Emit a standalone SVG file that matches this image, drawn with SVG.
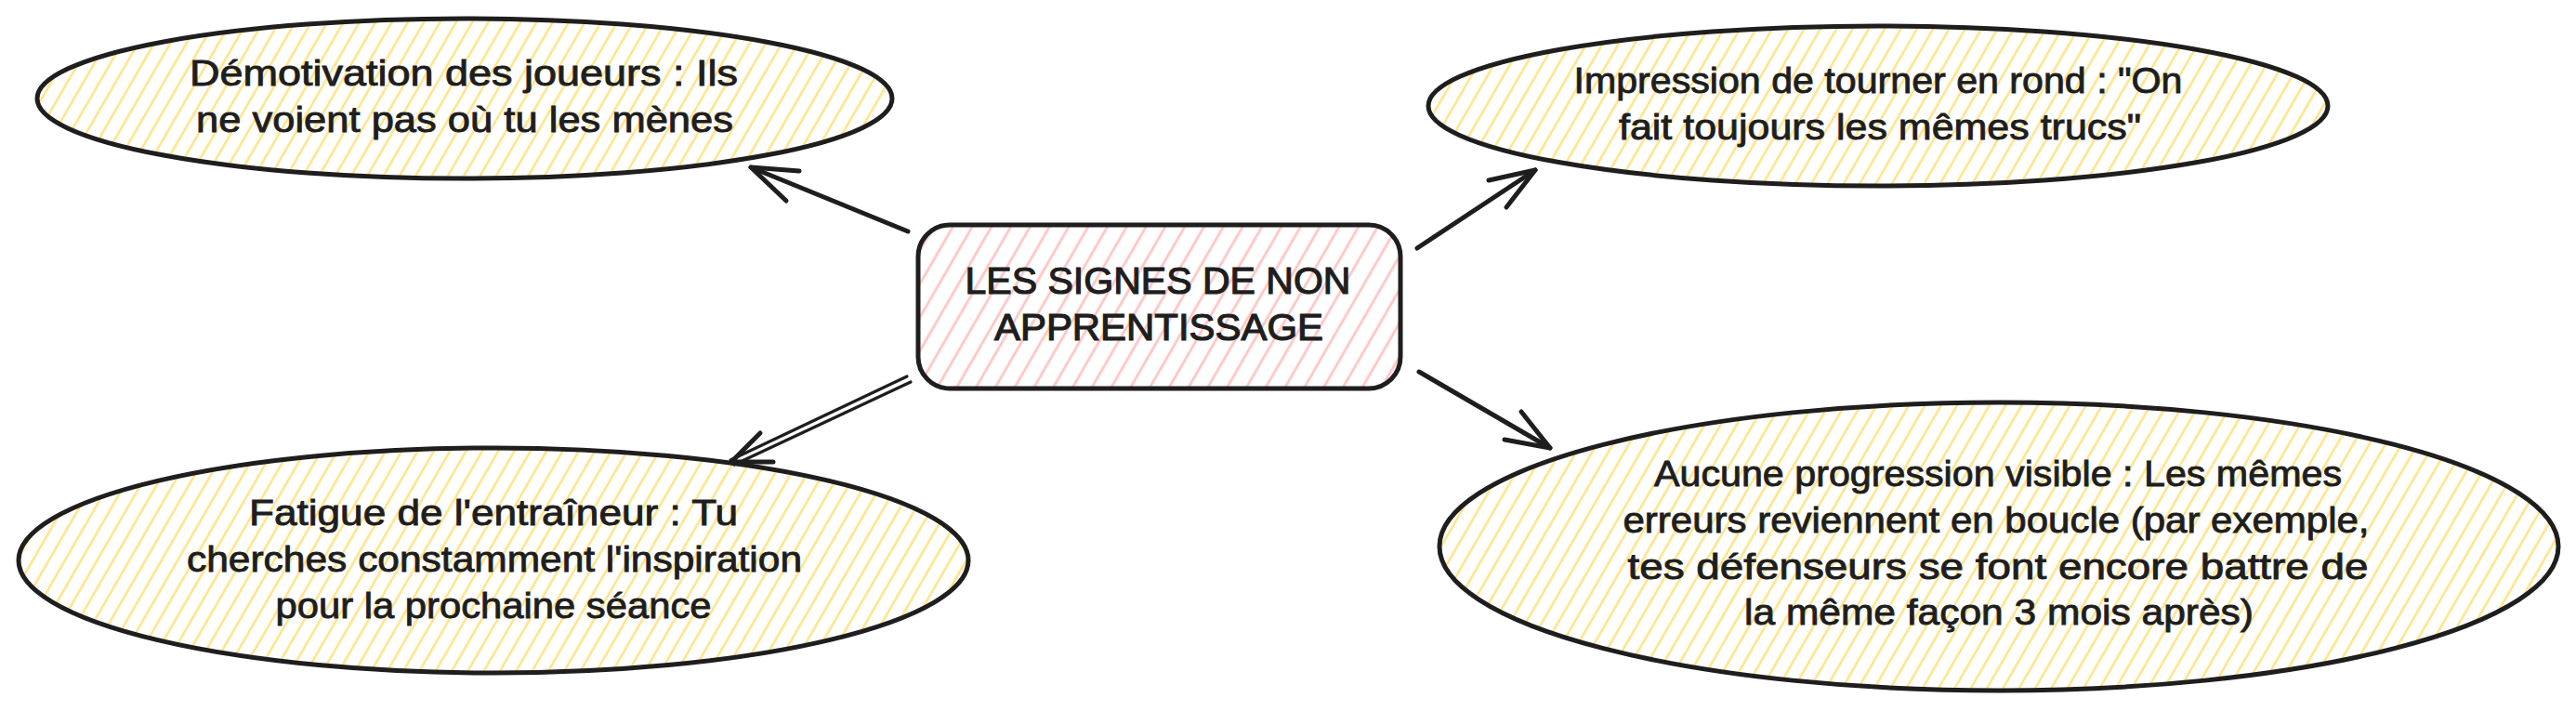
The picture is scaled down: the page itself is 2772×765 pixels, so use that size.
<svg xmlns="http://www.w3.org/2000/svg" width="2772" height="765" viewBox="0 0 2772 765">
  <defs>
    <pattern id="hatchY" patternUnits="userSpaceOnUse" width="15" height="15" patternTransform="rotate(30)">
      <line x1="2" y1="-5" x2="2" y2="20" stroke="#ffe38a" stroke-width="2.6"/>
    </pattern>
    <pattern id="hatchP" patternUnits="userSpaceOnUse" width="18" height="18" patternTransform="rotate(30)">
      <line x1="2" y1="-5" x2="2" y2="25" stroke="#ffc4c4" stroke-width="2.8"/>
    </pattern>
    <style>
      .shape { stroke: #1e1e1e; stroke-width: 5; stroke-linejoin: round; }
      .yel { fill: url(#hatchY); }
      .pink { fill: url(#hatchP); }
      .lbl { font-family: "Liberation Sans", "DejaVu Sans", sans-serif; font-size: 39px; fill: #1e1e1e; stroke: #1e1e1e; stroke-width: 0.9; text-anchor: middle; }
      .title { font-family: "Liberation Sans", "DejaVu Sans", sans-serif; font-size: 40px; fill: #1e1e1e; stroke: #1e1e1e; stroke-width: 1.2; text-anchor: middle; }
      .conn { fill: none; stroke: #1e1e1e; stroke-width: 5; stroke-linecap: round; stroke-linejoin: round; }
      .connThin { fill: none; stroke: #1e1e1e; stroke-width: 3.2; stroke-linecap: round; stroke-linejoin: round; }
    </style>
  </defs>
  <rect x="0" y="0" width="2772" height="765" fill="#ffffff"/>

  <g id="connectors">
    <g id="arrow-demotivation">
      <line class="conn" x1="977" y1="249" x2="808" y2="180"/>
      <polyline class="conn" points="860,184 808,180 846,216"/>
    </g>
    <g id="arrow-impression">
      <line class="conn" x1="1525" y1="267" x2="1652" y2="183"/>
      <polyline class="conn" points="1602,194 1652,183 1621,223"/>
    </g>
    <g id="arrow-fatigue">
      <line class="connThin" x1="976" y1="405" x2="786" y2="495"/>
      <line class="connThin" x1="980" y1="411" x2="790" y2="500"/>
      <polyline class="conn" points="818,466 787,497 832,497"/>
    </g>
    <g id="arrow-progression">
      <line class="conn" x1="1527" y1="400" x2="1668" y2="482"/>
      <polyline class="conn" points="1637,443 1668,482 1619,473"/>
    </g>
  </g>

  <g id="node-center">
    <rect class="shape pink" x="988" y="242" width="519" height="176" rx="34" ry="34"/>
    <text class="title" x="1246" y="316" textLength="415" lengthAdjust="spacingAndGlyphs">LES SIGNES DE NON</text>
    <text class="title" x="1247" y="366" textLength="354" lengthAdjust="spacingAndGlyphs">APPRENTISSAGE</text>
  </g>

  <g id="node-demotivation">
    <ellipse class="shape yel" cx="500" cy="106" rx="460" ry="86"/>
    <text class="lbl" x="499" y="92" textLength="590" lengthAdjust="spacingAndGlyphs">Démotivation des joueurs : Ils</text>
    <text class="lbl" x="500" y="142" textLength="578" lengthAdjust="spacingAndGlyphs">ne voient pas où tu les mènes</text>
  </g>

  <g id="node-impression">
    <ellipse class="shape yel" cx="2021" cy="114" rx="484" ry="86"/>
    <text class="lbl" x="2021" y="100" textLength="655" lengthAdjust="spacingAndGlyphs">Impression de tourner en rond : "On</text>
    <text class="lbl" x="2023" y="150" textLength="562" lengthAdjust="spacingAndGlyphs">fait toujours les mêmes trucs"</text>
  </g>

  <g id="node-fatigue">
    <ellipse class="shape yel" cx="531" cy="603" rx="511" ry="121"/>
    <text class="lbl" x="531" y="565" textLength="526" lengthAdjust="spacingAndGlyphs">Fatigue de l'entraîneur : Tu</text>
    <text class="lbl" x="532" y="615" textLength="662" lengthAdjust="spacingAndGlyphs">cherches constamment l'inspiration</text>
    <text class="lbl" x="531" y="665" textLength="469" lengthAdjust="spacingAndGlyphs">pour la prochaine séance</text>
  </g>

  <g id="node-progression">
    <ellipse class="shape yel" cx="2151" cy="588" rx="602" ry="155"/>
    <text class="lbl" x="2150" y="523" textLength="740" lengthAdjust="spacingAndGlyphs">Aucune progression visible : Les mêmes</text>
    <text class="lbl" x="2148" y="573" textLength="803" lengthAdjust="spacingAndGlyphs">erreurs reviennent en boucle (par exemple,</text>
    <text class="lbl" x="2150" y="623" textLength="797" lengthAdjust="spacingAndGlyphs">tes défenseurs se font encore battre de</text>
    <text class="lbl" x="2151" y="672" textLength="548" lengthAdjust="spacingAndGlyphs">la même façon 3 mois après)</text>
  </g>
</svg>
